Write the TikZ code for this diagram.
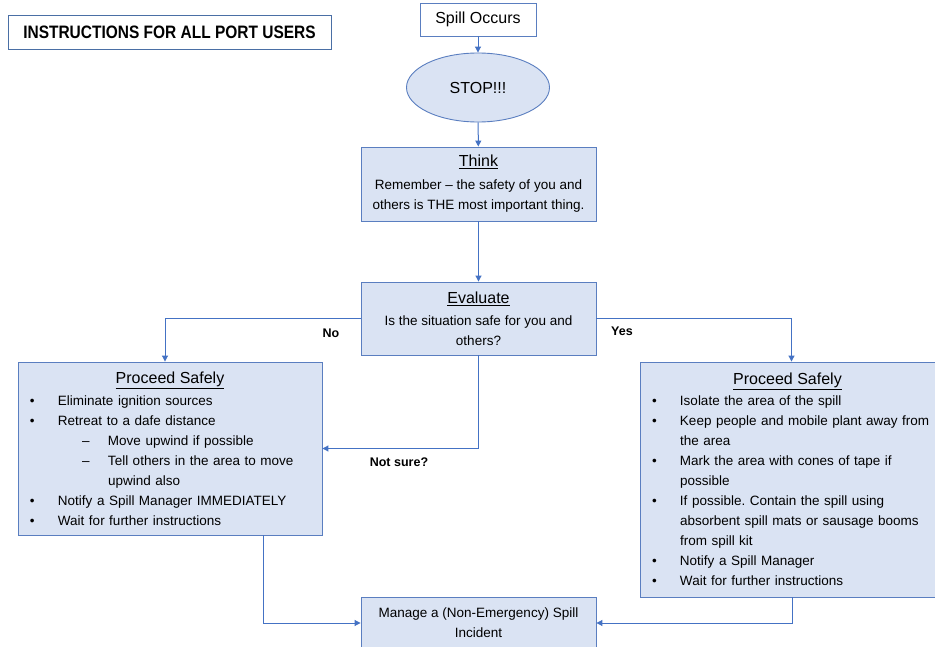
\documentclass[tikz,border=0pt]{standalone}
\usepackage{fontspec}
\setmainfont{Liberation Sans}
\usetikzlibrary{shapes.geometric,arrows.meta,calc}
\definecolor{lineblue}{HTML}{4472C4}
\definecolor{boxblue}{HTML}{DAE3F3}
\definecolor{edgeblue}{HTML}{5A7EC0}
\definecolor{titleedge}{HTML}{4A6FA5}
\newcommand{\bitem}[1]{\mbox{\makebox[28pt][l]{\textbullet}#1}}
\newcommand{\cont}[1]{\mbox{\hspace*{28pt}#1}}
\newcommand{\sitem}[1]{\mbox{\hspace*{52pt}\makebox[26pt][l]{–}#1}}
\newcommand{\scont}[1]{\mbox{\hspace*{78pt}#1}}
\newcommand{\hd}[1]{\makebox[\linewidth][c]{\fontsize{16}{20}\selectfont\underline{#1}}}
\frenchspacing
\begin{document}
\begin{tikzpicture}[x=1pt,y=-1pt,
  box/.style={draw=edgeblue, fill=boxblue, line width=0.9pt, inner sep=0pt, align=center, font=\fontsize{13.5}{20}\selectfont},
  listbox/.style={box, align=left, inner xsep=12pt, inner ysep=0pt},
  conn/.style={draw=lineblue, line width=1pt, -{Triangle[length=6pt,width=6pt]}},
  lbl/.style={font=\bfseries\fontsize{12.5}{14}\selectfont, inner sep=0pt}]
\clip (0,0) rectangle (935,647);
\fill[white] (0,0) rectangle (935,647);

\node[draw=titleedge, line width=0.8pt, minimum width=323pt, minimum height=34pt, inner sep=0pt] (title) at (169.5,32)
  {\scalebox{0.86}[1]{\bfseries\fontsize{18}{20}\selectfont INSTRUCTIONS FOR ALL PORT USERS}};

\node[draw=edgeblue, line width=0.9pt, fill=white, minimum width=116pt, minimum height=33pt, inner sep=0pt, font=\fontsize{16}{18}\selectfont] (spill) at (478,19.5) {Spill Occurs};

\node[ellipse, draw=edgeblue, line width=0.9pt, fill=boxblue, minimum width=143pt, minimum height=69pt, inner sep=0pt, font=\fontsize{16}{18}\selectfont] (stop) at (478,87.5) {STOP!!!};

\node[box, minimum width=235pt, minimum height=74pt] (think) at (478.5,184)
  {\underline{\fontsize{16}{20}\selectfont Think}\\[3pt]
   Remember – the safety of you and\\
   others is THE most important thing.};

\node[box, minimum width=235pt, minimum height=73pt] (eval) at (478.5,318.5)
  {\underline{\fontsize{16}{20}\selectfont Evaluate}\\[2pt]
   Is the situation safe for you and\\
   others?};

\node[listbox, text width=280pt, minimum height=173pt] (left) at (170,448.5)
  {\hd{Proceed Safely}\\[2pt]
   \bitem{Eliminate ignition sources}\\
   \bitem{Retreat to a dafe distance}\\
   \sitem{Move upwind if possible}\\
   \sitem{Tell others in the area to move}\\
   \scont{upwind also}\\
   \bitem{Notify a Spill Manager IMMEDIATELY}\\
   \bitem{Wait for further instructions}};

\node[listbox, text width=271pt, minimum height=235pt] (right) at (787.5,479.5)
  {\hd{Proceed Safely}\\[1pt]
   \bitem{Isolate the area of the spill}\\
   \bitem{Keep people and mobile plant away from}\\
   \cont{the area}\\
   \bitem{Mark the area with cones of tape if}\\
   \cont{possible}\\
   \bitem{If possible. Contain the spill using}\\
   \cont{absorbent spill mats or sausage booms}\\
   \cont{from spill kit}\\
   \bitem{Notify a Spill Manager}\\
   \bitem{Wait for further instructions}};

\node[box, minimum width=235pt, minimum height=52pt] (manage) at (478.5,623)
  {Manage a (Non-Emergency) Spill\\Incident};

\node[lbl] (no) at (331,333) {No};
\node[lbl] (yes) at (622,331) {Yes};
\node[lbl] (notsure) at (399,462) {Not sure?};

\draw[conn] (spill) -- (stop);
\draw[conn] (stop) -- (think);
\draw[conn] (think) -- (eval);
\draw[conn] (eval.west) -| ([xshift=-5pt]left.north);
\draw[conn] (eval.east) -| ([xshift=4pt]right.north);
\draw[conn] (eval.south) |- (left.east);
\draw[conn] ([xshift=93pt]left.south) |- (manage.west);
\draw[conn] ([xshift=4.5pt]right.south) |- (manage.east);
\end{tikzpicture}
\end{document}
